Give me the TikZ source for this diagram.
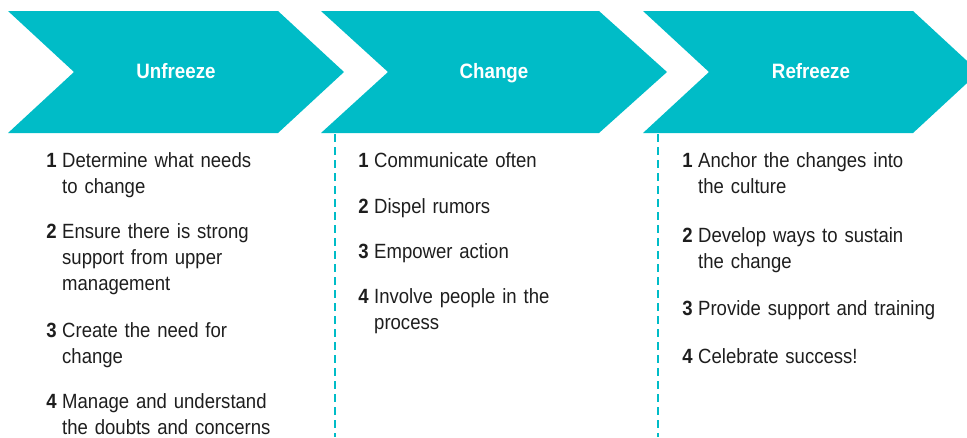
\documentclass[tikz,border=0pt]{standalone}
\usepackage{fontspec}
\setmainfont{Liberation Sans}[FakeStretch=0.9, WordSpace=0.72]
\usetikzlibrary{positioning}
\definecolor{kteal}{RGB}{0,188,199}
\definecolor{ktext}{RGB}{30,30,30}
\tikzset{
  head/.style={text=white, font=\fontsize{20.8}{24}\selectfont\bfseries, inner sep=0pt, anchor=base},
  stepitem/.style={text=ktext, font=\fontsize{20.6}{26}\selectfont, inner sep=0pt, anchor=base west, text width=270pt, align=left},
  stepnum/.style={text=ktext, font=\fontsize{20.6}{26}\selectfont\bfseries, inner sep=0pt, anchor=base east, xshift=-5pt},
  sepline/.style={kteal, line width=2pt, dash pattern=on 8pt off 5pt}
}
\begin{document}
\begin{tikzpicture}[x=1pt, y=-1pt]
  \useasboundingbox (0,0) rectangle (967,437);
  % Chevrons
  \fill[kteal] (8,11) -- (278,11) -- (344,72) -- (278,133) -- (8,133) -- (74,72) -- cycle;
  \fill[kteal] (321,11) -- (599,11) -- (667,72) -- (599,133) -- (321,133) -- (388,72) -- cycle;
  \begin{scope}
    \clip (0,0) rectangle (967,437);
    \fill[kteal] (643,11) -- (913,11) -- (979,72) -- (913,133) -- (643,133) -- (709,72) -- cycle;
  \end{scope}
  \node[head] (unf) at (176,78) {Unfreeze};
  \node[head] (chg) at (494,78) {Change};
  \node[head] (ref) at (811,78) {Refreeze};
  % Separators
  \draw[sepline] (335,134) -- (335,437);
  \draw[sepline] (658,134) -- (658,437);
  % Unfreeze steps
  \node[stepitem] (u1) at (62,167) {Determine what needs\\to change};
  \node[stepitem] (u2) at (62,238) {Ensure there is strong\\support from upper\\management};
  \node[stepitem] (u3) at (62,337) {Create the need for\\change};
  \node[stepitem] (u4) at (62,408) {Manage and understand\\the doubts and concerns};
  \node[stepnum] (un1) at (u1.base west) {1};
  \node[stepnum] (un2) at (u2.base west) {2};
  \node[stepnum] (un3) at (u3.base west) {3};
  \node[stepnum] (un4) at (u4.base west) {4};
  % Change steps
  \node[stepitem] (c1) at (374,167) {Communicate often};
  \node[stepitem] (c2) at (374,213) {Dispel rumors};
  \node[stepitem] (c3) at (374,258) {Empower action};
  \node[stepitem] (c4) at (374,303) {Involve people in the\\process};
  \node[stepnum] (cn1) at (c1.base west) {1};
  \node[stepnum] (cn2) at (c2.base west) {2};
  \node[stepnum] (cn3) at (c3.base west) {3};
  \node[stepnum] (cn4) at (c4.base west) {4};
  % Refreeze steps
  \node[stepitem] (r1) at (698,167) {Anchor the changes into\\the culture};
  \node[stepitem] (r2) at (698,242) {Develop ways to sustain\\the change};
  \node[stepitem] (r3) at (698,315) {Provide support and training};
  \node[stepitem] (r4) at (698,363) {Celebrate success!};
  \node[stepnum] (rn1) at (r1.base west) {1};
  \node[stepnum] (rn2) at (r2.base west) {2};
  \node[stepnum] (rn3) at (r3.base west) {3};
  \node[stepnum] (rn4) at (r4.base west) {4};
\end{tikzpicture}
\end{document}
